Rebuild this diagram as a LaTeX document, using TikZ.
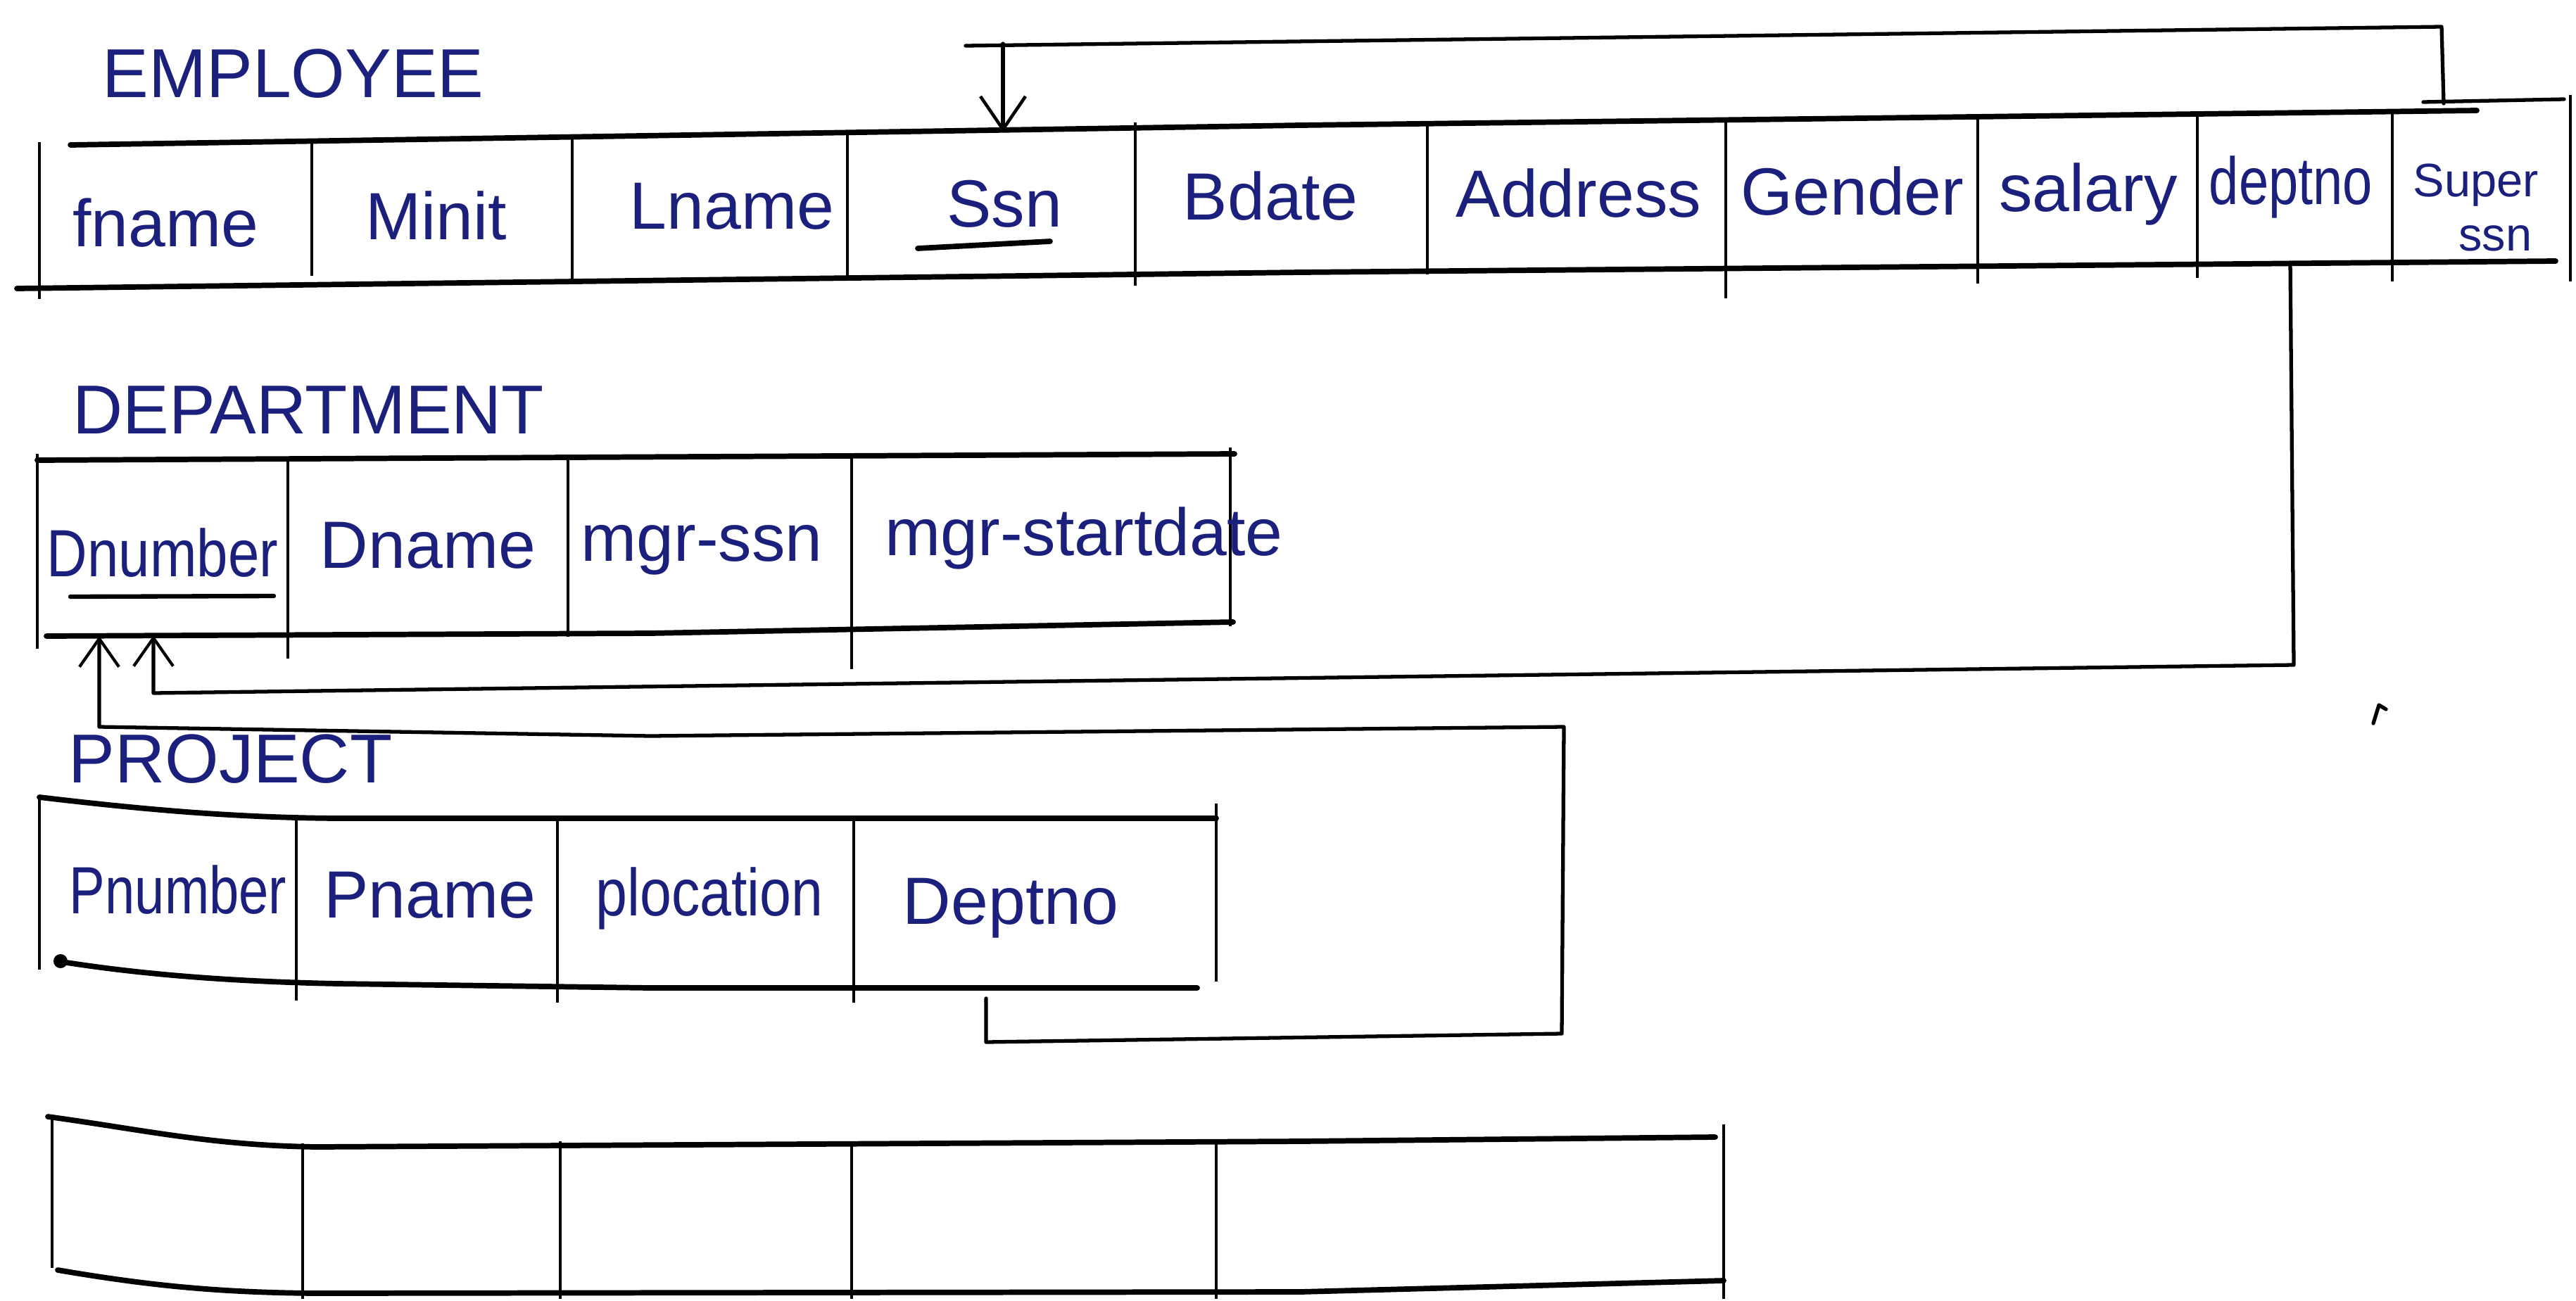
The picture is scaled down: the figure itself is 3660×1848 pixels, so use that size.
\documentclass[tikz,border=0pt]{standalone}
\usepackage{fontspec}
\setmainfont{Liberation Sans}
\usetikzlibrary{arrows.meta}
\definecolor{ink}{RGB}{28,32,125}
\begin{document}
\begin{tikzpicture}[x=0.01cm,y=-0.01cm,
  hline/.style={line width=2.2pt, line cap=round},
  vline/.style={line width=1.1pt},
  conn/.style={line width=1.5pt, line cap=round, line join=round},
  lbl/.style={text=ink, font=\fontsize{27}{30}\selectfont, inner sep=0pt, anchor=base},
  small/.style={text=ink, font=\fontsize{19}{22}\selectfont, inner sep=0pt, align=center},
  ttl/.style={text=ink, font=\fontsize{28}{32}\selectfont, inner sep=0pt, anchor=base west},
  tipbig/.style={-{Straight Barb[length=4.7mm,width=6.4mm,line width=1.3pt]}},
  tipsmall/.style={-{Straight Barb[length=4mm,width=5.6mm,line width=1.2pt]}}]
\useasboundingbox[fill=white] (0,0) rectangle (3660,1848);

% ---------- titles ----------
\node[ttl] (tEmp) at (145,138) {EMPLOYEE};
\node[ttl] (tDep) at (103,616) {DEPARTMENT};
\node[ttl] (tPro) at (97,1112) {PROJECT};

% ---------- EMPLOYEE table ----------
\draw[hline] (100,206) -- (1848,178) -- (3519,157);
\draw[hline] (24,410) -- (1848,387) -- (3631,371);
\draw[vline] (56,202) -- (56,425);
\foreach \x/\t/\b in {443/204/392, 813/194/402, 1204/188/397, 1613/174/406,
  2028/172/390, 2452/168/424, 2810/166/403, 3122/160/395, 3399/158/400}
  \draw[vline] (\x,\t) -- (\x,\b);
\draw[vline] (3652,135) -- (3652,400);

\node[lbl] (eFname) at (235,350) {fname};
\node[lbl] (eMinit) at (620,340) {Minit};
\node[lbl] (eLname) at (1040,325) {Lname};
\node[lbl] (eSsn) at (1427,322) {Ssn};
\node[lbl] (eBdate) at (1805,312) {Bdate};
\node[lbl] (eAddr) at (2243,308) {Address};
\node[lbl] (eGender) at (2632,305) {Gender};
\node[lbl] (eSalary) at (2967,300) {salary};
\node[lbl] (eDept) at (3255,290) {\scalebox{0.8}[1]{deptno}};
\node[small] (eSuper) at (3518,295) {Super\\\hspace*{0.55cm}ssn};
\draw[hline] (1304,353) -- (1492,343);

% ---------- DEPARTMENT table ----------
\draw[hline] (53,654) -- (1754,645);
\draw[hline] (66,904) -- (924,900) -- (1752,884);
\foreach \x/\t/\b in {53/645/922, 409/650/936, 807/650/905, 1210/648/951, 1748/636/890}
  \draw[vline] (\x,\t) -- (\x,\b);
\node[lbl] (dNum) at (231,819) {\scalebox{0.84}[1]{Dnumber}};
\node[lbl] (dName) at (608,807) {Dname};
\node[lbl] (dMgr) at (997,797) {mgr-ssn};
\node[lbl] (dMgrDate) at (1540,789) {mgr-startdate};
\draw[line width=1.8pt, line cap=round] (100,848) -- (389,847);

% ---------- PROJECT table ----------
\draw[hline] (56,1133) .. controls (200,1150) and (330,1162) .. (480,1163) -- (1728,1163);
\draw[hline] (82,1366) .. controls (200,1385) and (330,1395) .. (480,1398) -- (924,1404) -- (1701,1404);
\fill (86,1366) circle[radius=1mm];
\foreach \x/\t/\b in {56/1130/1378, 421/1160/1422, 792/1160/1425, 1213/1160/1425, 1728/1142/1395}
  \draw[vline] (\x,\t) -- (\x,\b);
\node[lbl] (pNum) at (253,1298) {\scalebox{0.8}[1]{Pnumber}};
\node[lbl] (pName) at (611,1304) {Pname};
\node[lbl] (pLoc) at (1008,1301) {\scalebox{0.85}[1]{plocation}};
\node[lbl] (pDept) at (1436,1313) {Deptno};

% ---------- empty table ----------
\draw[hline] (68,1587) .. controls (200,1605) and (300,1628) .. (450,1630) -- (1848,1622) -- (2437,1616);
\draw[hline] (82,1805) .. controls (200,1825) and (300,1837) .. (450,1838) -- (1848,1836) -- (2449,1820);
\foreach \x/\t/\b in {74/1584/1802, 430/1625/1846, 796/1622/1846, 1210/1625/1846, 1728/1622/1846, 2449/1598/1846}
  \draw[vline] (\x,\t) -- (\x,\b);

% ---------- connectors ----------
% Super ssn -> Ssn
\coordinate (supL) at (3443,145);
\coordinate (supR) at (3643,141);
\coordinate (supV) at (3472,147);
\coordinate (supTop) at (3469,38);
\coordinate (topL) at (1372,65);
\coordinate (ssnStart) at (1425,62);
\coordinate (ssnTop) at (1425,188);
\draw[conn] (supL) -- (supR);
\draw[conn] (supV) -- (supTop) -- (topL);
\draw[conn,tipbig] (ssnStart) -- (ssnTop);

% deptno (EMPLOYEE) -> Dnumber
\coordinate (eDeptBot) at (3254,373);
\coordinate (c2a) at (3259,945);
\coordinate (c2b) at (218,985);
\coordinate (dNumBot2) at (218,903);
\draw[conn,tipsmall] (eDeptBot) -- (c2a) -- (c2b) -- (dNumBot2);

% Deptno (PROJECT) -> Dnumber
\coordinate (pDeptBot) at (1401,1419);
\coordinate (c3a) at (1401,1481);
\coordinate (c3b) at (2219,1469);
\coordinate (c3c) at (2222,1033);
\coordinate (c3d) at (924,1046);
\coordinate (c3e) at (141,1033);
\coordinate (dNumBot1) at (141,904);
\draw[conn,tipsmall] (pDeptBot) -- (c3a) -- (c3b) -- (c3c) -- (c3d) -- (c3e) -- (dNumBot1);

% stray pen mark
\draw[conn] (3372,1028) -- (3380,1002) -- (3390,1008);
\end{tikzpicture}
\end{document}
